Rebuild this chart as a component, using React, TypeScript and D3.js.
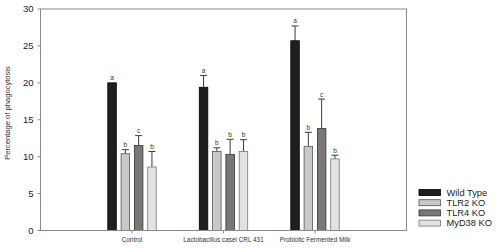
import React from "react";
import * as d3 from "d3";

const categories = ["Control", "Lactobacillus casei CRL 431", "Probiotic Fermented Milk"];
const seriesNames = ["Wild Type", "TLR2 KO", "TLR4 KO", "MyD38 KO"];
const wildType = [20.0, 19.4, 25.7];
const tlr2 = [10.4, 10.7, 11.4];
const tlr4 = [11.5, 10.3, 13.8];
const myd38 = [8.6, 10.7, 9.7];
const wildTypeErr = [0, 1.6, 2.0];
const tlr2Err = [0.55, 0.5, 1.9];
const tlr4Err = [1.35, 2.05, 4.0];
const myd38Err = [2.1, 1.6, 0.5];
const letters = [
  ["a", "b", "c", "b"],
  ["a", "b", "b", "b"],
  ["a", "b", "c", "b"],
];
const yTicks = [0, 5, 10, 15, 20, 25, 30];

const values = [wildType, tlr2, tlr4, myd38];
const errors = [wildTypeErr, tlr2Err, tlr4Err, myd38Err];
const fills = ["#1e1e1e", "#c8c8c8", "#787878", "#e2e2e2"];
const strokes = ["#000", "#555", "#333", "#777"];

const FONT = "'Liberation Sans', Arial, sans-serif";

export default function App() {
  const left = 40.5, right = 406.5, top = 9, bottom = 230.5;
  const x = d3.scaleLinear().domain([0, 4]).range([left, right]);
  const y = d3.scaleLinear().domain([0, 30]).range([bottom, top]);
  const inner = d3.scaleBand<string>().domain(seriesNames).range([-26.6, 26.6]).paddingInner(0.36).paddingOuter(0.18);
  const bw = inner.bandwidth();

  return (
    <svg width={500} height={250} style={{ position: "absolute", left: 0, top: 0, background: "#fff" }} fontFamily={FONT}>
      <rect x={0} y={0} width={500} height={250} fill="#fff" />
      {/* bars */}
      {categories.map((c, ci) =>
        seriesNames.map((s, si) => {
          const cx = x(ci + 1) + (inner(s) as number);
          const v = values[si][ci];
          const e = errors[si][ci];
          const mid = cx + bw / 2;
          const topY = y(v + e);
          return (
            <g key={c + s}>
              {e > 0 && (
                <g stroke="#3a3a3a" strokeWidth={1}>
                  <line x1={mid} x2={mid} y1={y(v)} y2={topY} />
                  <line x1={mid - 3.5} x2={mid + 3.5} y1={topY} y2={topY} />
                </g>
              )}
              <rect x={cx} y={y(v)} width={bw} height={y(0) - y(v)} fill={fills[si]} stroke={strokes[si]} strokeWidth={0.8} />
              <text x={mid} y={topY - 2.5} fontSize={6.5} textAnchor="middle" fill="#333">{letters[ci][si]}</text>
            </g>
          );
        })
      )}
      {/* frame */}
      <rect x={left} y={top} width={right - left} height={bottom - top} fill="none" stroke="#8a8a8a" strokeWidth={1} />
      {/* y ticks */}
      {yTicks.map((t) => (
        <g key={t}>
          <line x1={left - 3} x2={left} y1={y(t)} y2={y(t)} stroke="#8a8a8a" />
          <text x={left - 7} y={y(t)} dy="0.35em" fontSize={9.5} textAnchor="end" fill="#222">{t}</text>
        </g>
      ))}
      {/* x ticks and labels */}
      {categories.map((c, ci) => (
        <g key={c}>
          <line x1={x(ci + 1)} x2={x(ci + 1)} y1={bottom} y2={bottom + 3} stroke="#8a8a8a" />
          <text x={x(ci + 1)} y={242} fontSize={6.4} textAnchor="middle" fill="#333">{c}</text>
        </g>
      ))}
      {/* y title */}
      <text transform={`translate(9.5,${113}) rotate(-90)`} fontSize={7.6} textAnchor="middle" fill="#333">Percentage of phagocytosis</text>
      {/* legend */}
      {seriesNames.map((s, si) => {
        const ly = 192.5 + si * 10.2;
        return (
          <g key={s}>
            <rect x={419} y={ly - 3} width={21.5} height={6} fill={fills[si]} stroke={strokes[si]} strokeWidth={0.8} />
            <text x={446.5} y={ly} dy="0.35em" fontSize={9.3} fill="#222">{s}</text>
          </g>
        );
      })}
    </svg>
  );
}
